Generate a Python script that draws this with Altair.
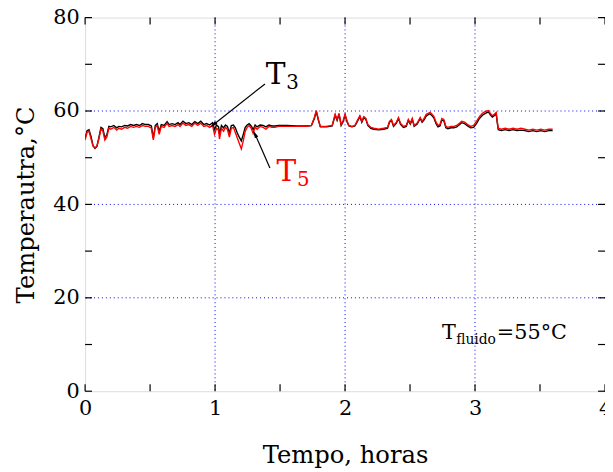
import altair as alt
import pandas as pd

# ---------------- data ----------------
time_h = [0.000, 0.015, 0.030, 0.046, 0.061, 0.076, 0.091, 0.106, 0.122, 0.137,
          0.152, 0.167, 0.183, 0.198, 0.221, 0.243, 0.259, 0.281, 0.304, 0.327,
          0.350, 0.373, 0.395, 0.418, 0.441, 0.464, 0.487, 0.510, 0.525, 0.540,
          0.555, 0.570, 0.586, 0.608, 0.631, 0.646, 0.669, 0.692, 0.715, 0.730,
          0.753, 0.776, 0.798, 0.821, 0.844, 0.867, 0.890, 0.913, 0.935, 0.958,
          0.981, 0.996, 1.011, 1.027, 1.034, 1.049, 1.065, 1.080, 1.095, 1.110,
          1.125, 1.141, 1.156, 1.171, 1.186, 1.202, 1.217, 1.232, 1.247, 1.262,
          1.278, 1.293, 1.308, 1.323, 1.346, 1.369, 1.392, 1.414, 1.437, 1.460,
          1.490, 1.551, 1.627, 1.703, 1.741, 1.764, 1.779, 1.795, 1.810, 1.856,
          1.901, 1.924, 1.939, 1.954, 1.970, 1.985, 2.000, 2.015, 2.030, 2.053,
          2.076, 2.099, 2.114, 2.129, 2.144, 2.160, 2.175, 2.198, 2.221, 2.259,
          2.297, 2.327, 2.342, 2.357, 2.373, 2.395, 2.411, 2.426, 2.449, 2.471,
          2.487, 2.502, 2.517, 2.532, 2.555, 2.578, 2.593, 2.608, 2.624, 2.639,
          2.654, 2.669, 2.684, 2.700, 2.715, 2.730, 2.745, 2.760, 2.776, 2.791,
          2.814, 2.837, 2.859, 2.882, 2.897, 2.920, 2.943, 2.966, 2.989, 3.011,
          3.034, 3.057, 3.080, 3.103, 3.118, 3.133, 3.148, 3.163, 3.171, 3.179,
          3.202, 3.232, 3.262, 3.293, 3.323, 3.354, 3.384, 3.414, 3.445, 3.475,
          3.506, 3.536, 3.567, 3.597]

t5 = [53.8, 55.4, 55.7, 54.0, 52.5, 52.1, 52.5, 54.0, 56.1, 55.7,
      53.8, 54.4, 56.3, 56.1, 56.5, 55.9, 56.3, 56.1, 56.5, 56.3,
      56.7, 56.5, 56.7, 56.5, 56.9, 56.7, 56.7, 56.3, 53.8, 56.5,
      56.9, 55.0, 56.7, 56.5, 57.4, 56.7, 56.9, 56.7, 57.1, 56.7,
      57.4, 56.9, 57.1, 56.7, 57.4, 56.9, 57.4, 56.7, 56.9, 56.5,
      56.9, 55.0, 56.3, 55.9, 54.0, 56.3, 55.7, 56.5, 56.1, 54.4,
      56.3, 56.5, 55.4, 54.2, 53.1, 51.9, 53.6, 55.7, 56.5, 56.9,
      56.3, 55.2, 56.5, 56.1, 56.7, 56.5, 56.1, 56.7, 56.5, 56.5,
      56.7, 56.7, 56.7, 56.7, 56.9, 58.6, 60.1, 58.2, 56.7, 56.7,
      56.9, 59.3, 58.2, 59.5, 57.1, 57.9, 59.3, 57.9, 56.9, 56.7,
      56.9, 58.2, 59.0, 57.8, 58.8, 58.4, 57.1, 56.5, 56.3, 56.1,
      56.3, 56.5, 57.8, 58.2, 56.9, 57.6, 58.6, 57.4, 56.7, 56.9,
      58.2, 57.4, 58.4, 56.9, 57.4, 58.6, 57.8, 58.4, 59.3, 59.5,
      59.7, 59.3, 58.8, 57.6, 56.9, 57.1, 58.4, 58.2, 56.7, 56.5,
      56.7, 56.7, 56.9, 57.4, 57.8, 57.6, 57.1, 56.7, 56.9, 57.8,
      58.8, 59.5, 59.9, 60.1, 59.5, 59.0, 59.3, 59.7, 57.8, 56.3,
      56.1, 56.3, 56.1, 56.3, 56.1, 56.3, 56.1, 55.9, 56.1, 55.9,
      56.1, 55.9, 56.1, 56.1]

t3 = [54.2, 55.8, 56.0, 54.5, 52.6, 52.0, 52.4, 54.3, 56.5, 56.2,
      54.3, 54.9, 56.7, 56.6, 56.9, 56.4, 56.7, 56.6, 56.9, 56.8,
      57.1, 56.9, 57.1, 56.9, 57.3, 57.1, 57.1, 56.8, 54.2, 56.9,
      57.3, 55.6, 57.1, 56.9, 57.7, 57.1, 57.3, 57.1, 57.5, 57.1,
      57.8, 57.3, 57.5, 57.1, 57.7, 57.3, 57.8, 57.1, 57.3, 57.0,
      57.5, 56.0, 57.0, 56.6, 55.0, 56.9, 56.4, 57.0, 56.7, 55.3,
      56.9, 57.0, 56.4, 55.3, 54.4, 53.6, 55.0, 56.5, 57.0, 57.3,
      56.8, 56.0, 57.0, 56.6, 57.0, 56.9, 56.6, 57.0, 56.8, 56.8,
      56.9, 56.9, 56.8, 56.8, 56.9, 58.4, 59.9, 58.0, 56.6, 56.6,
      56.8, 59.1, 58.0, 59.3, 56.9, 57.7, 59.1, 57.7, 56.8, 56.6,
      56.8, 58.0, 58.8, 57.6, 58.6, 58.2, 56.9, 56.3, 56.1, 56.0,
      56.1, 56.3, 57.6, 58.0, 56.7, 57.4, 58.4, 57.2, 56.5, 56.7,
      58.0, 57.2, 58.2, 56.7, 57.2, 58.4, 57.6, 58.1, 58.9, 59.2,
      59.4, 59.0, 58.5, 57.3, 56.6, 56.8, 58.1, 57.9, 56.4, 56.2,
      56.4, 56.4, 56.6, 57.1, 57.5, 57.3, 56.8, 56.4, 56.5, 57.3,
      58.4, 59.1, 59.5, 59.8, 59.2, 58.7, 59.0, 59.4, 57.5, 56.0,
      55.8, 56.0, 55.8, 56.0, 55.8, 55.9, 55.8, 55.6, 55.8, 55.6,
      55.8, 55.6, 55.8, 55.8]

x_major = [0, 1, 2, 3, 4]
y_major = [0, 20, 40, 60, 80]
x_minor = [0.5, 1.5, 2.5, 3.5]
y_minor = [10, 30, 50, 70]
x_grid = [1, 2, 3]
y_grid = [20, 40, 60]

FONT = "DejaVu Serif"
W, H = 526, 378

df = pd.DataFrame({"t": time_h, "T3": t3, "T5": t5})

xs = alt.Scale(domain=[0, 4], nice=False)
ys = alt.Scale(domain=[0, 80], nice=False)

base = alt.Chart(df)

line3 = base.mark_line(color="black", strokeWidth=1.4, clip=True).encode(
    x=alt.X("t:Q", scale=xs,
            axis=alt.Axis(values=x_major, format="d", title="Tempo, horas", grid=False, ticks=False,
                          domain=False, labelFont=FONT, labelFontSize=21, labelColor="black",
                          labelPadding=7, labelFlush=False, titleFont=FONT, titleFontSize=24.5,
                          titleFontWeight="normal", titleColor="black", titlePadding=25)),
    y=alt.Y("T3:Q", scale=ys,
            axis=alt.Axis(values=y_major, format="d", title="Temperautra,°C", grid=False, ticks=False,
                          domain=False, labelFont=FONT, labelFontSize=21, labelColor="black",
                          labelPadding=6, labelFlush=False, titleFont=FONT, titleFontSize=24.5,
                          titleFontWeight="normal", titleColor="black", titlePadding=14)),
)
line5 = base.mark_line(color="#ff0000", strokeWidth=1.4, clip=True).encode(
    x=alt.X("t:Q", scale=xs), y=alt.Y("T5:Q", scale=ys)
)

grid_x = alt.Chart(pd.DataFrame({"v": x_grid})).mark_rule(
    color="#0000ff", strokeDash=[1, 3], strokeWidth=1).encode(x=alt.X("v:Q", scale=xs))
grid_y = alt.Chart(pd.DataFrame({"v": y_grid})).mark_rule(
    color="#0000ff", strokeDash=[1, 3], strokeWidth=1).encode(y=alt.Y("v:Q", scale=ys))

TL = 7
yt = pd.DataFrame({"v": y_major + y_minor})
xt = pd.DataFrame({"v": x_major + x_minor})
tick_l = alt.Chart(yt).mark_rule(color="black", strokeWidth=1.2).encode(
    y=alt.Y("v:Q", scale=ys), x=alt.value(0), x2=alt.value(TL))
tick_r = alt.Chart(yt).mark_rule(color="black", strokeWidth=1.2).encode(
    y=alt.Y("v:Q", scale=ys), x=alt.value(W - TL), x2=alt.value(W))
tick_b = alt.Chart(xt).mark_rule(color="black", strokeWidth=1.2).encode(
    x=alt.X("v:Q", scale=xs), y=alt.value(H), y2=alt.value(H - TL))
tick_t = alt.Chart(xt).mark_rule(color="black", strokeWidth=1.2).encode(
    x=alt.X("v:Q", scale=xs), y=alt.value(0), y2=alt.value(TL))

# annotations
arrows = pd.DataFrame({
    "x1": [1.384, 1.422], "y1": [65.8, 47.8],
    "x2": [0.989, 1.308], "y2": [57.1, 55.0],
    "ang": [230, 333],
})
arrow_lines = alt.Chart(arrows).mark_rule(color="black", strokeWidth=1.2).encode(
    x=alt.X("x1:Q", scale=xs), y=alt.Y("y1:Q", scale=ys), x2="x2:Q", y2="y2:Q")
arrow_heads = alt.Chart(arrows).mark_point(
    shape="M0,-1L-0.4,0.7L0.4,0.7Z", filled=True, color="black", size=90, opacity=1).encode(
    x=alt.X("x2:Q", scale=xs), y=alt.Y("y2:Q", scale=ys), angle=alt.Angle("ang:Q", scale=None))

labels = pd.DataFrame({
    "x": [1.390, 1.548, 1.473, 1.630, 2.745, 2.855, 3.168],
    "y": [65.8, 64.7, 45.1, 43.9, 11.2, 10.1, 11.2],
    "txt": ["T", "3", "T", "5", "T", "fluido", "=55°C"],
    "size": [30, 20, 30, 20, 21, 14, 21],
    "col": ["black", "black", "red", "red", "black", "black", "black"],
})
label_marks = alt.Chart(labels).mark_text(align="left", baseline="alphabetic", font=FONT).encode(
    x=alt.X("x:Q", scale=xs), y=alt.Y("y:Q", scale=ys), text="txt:N",
    size=alt.Size("size:Q", scale=None, legend=None),
    color=alt.Color("col:N", scale=None, legend=None))

chart = alt.layer(
    grid_x, grid_y, line3, line5, tick_l, tick_r, tick_b, tick_t,
    arrow_lines, arrow_heads, label_marks
).properties(
    width=W, height=H,
    autosize=alt.AutoSizeParams(type="none"),
    padding={"left": 78, "top": 7, "right": 0, "bottom": 77},
).configure_view(stroke="black", strokeWidth=1.5).configure(background="white")

chart.save("out.html", embed_options={"renderer": "svg", "actions": False})
